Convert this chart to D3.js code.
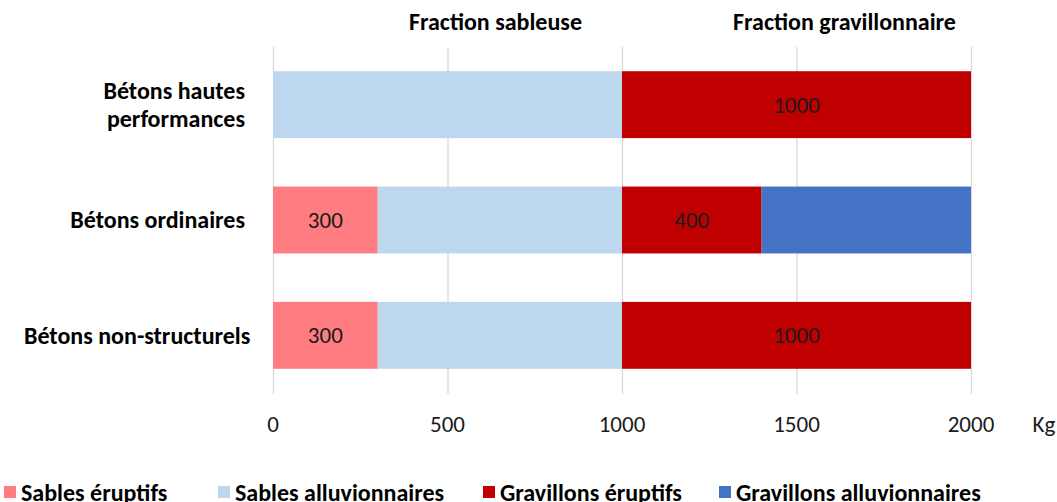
<!DOCTYPE html>
<html><head><meta charset="utf-8">
<script src="https://cdn.jsdelivr.net/npm/d3@7"></script>
<style>
body{margin:0;background:#fff;}
svg{display:block;font-family:Carlito,"Liberation Sans Narrow","Open Sans",sans-serif;}
</style></head>
<body><svg id="c" width="1057" height="502"></svg>
<script>
const categories = ["Bétons hautes performances", "Bétons ordinaires", "Bétons non-structurels"];
const categoryLines = [["Bétons hautes", "performances"], ["Bétons ordinaires"], ["Bétons non-structurels"]];
const seriesNames = ["Sables éruptifs", "Sables alluvionnaires", "Gravillons éruptifs", "Gravillons alluvionnaires"];
const sablesEruptifs = [0, 300, 300];
const sablesAlluvionnaires = [1000, 700, 700];
const gravillonsEruptifs = [1000, 400, 1000];
const gravillonsAlluvionnaires = [0, 600, 0];
const labelledSeries = ["Sables éruptifs", "Gravillons éruptifs"];
const xTicks = [0, 500, 1000, 1500, 2000];
const headers = [{text: "Fraction sableuse", from: 0, to: 1000}, {text: "Fraction gravillonnaire", from: 1000, to: 2000}];
const colors = ["#FF7C80", "#BDD7EE", "#C00000", "#4472C4"];

const seriesValues = [sablesEruptifs, sablesAlluvionnaires, gravillonsEruptifs, gravillonsAlluvionnaires];
const rows = categories.map((c, i) => {
  const o = {cat: c};
  seriesNames.forEach((s, j) => o[s] = seriesValues[j][i]);
  return o;
});
const stacked = d3.stack().keys(seriesNames)(rows);

const svg = d3.select("#c");
const x = d3.scaleLinear().domain([0, 2000]).range([273, 971]);
const y = d3.scaleBand().domain(categories).range([47, 393]).paddingInner(0.42).paddingOuter(0.21);
const color = d3.scaleOrdinal().domain(seriesNames).range(colors);
const REG = 23, BOLD = 24;

// gridlines
svg.append("g").selectAll("line").data(xTicks).join("line")
  .attr("x1", d => x(d) + 0.5).attr("x2", d => x(d) + 0.5)
  .attr("y1", 47).attr("y2", 394)
  .attr("stroke", "#d9d9d9").attr("stroke-width", 1.3);

// bars
const g = svg.append("g").selectAll("g").data(stacked).join("g").attr("fill", d => color(d.key));
g.selectAll("rect").data(d => d.map(v => ({key: d.key, v}))).join("rect")
  .attr("x", d => x(d.v[0]))
  .attr("width", d => x(d.v[1]) - x(d.v[0]))
  .attr("y", d => y(d.v.data.cat))
  .attr("height", y.bandwidth());

// value labels
stacked.filter(s => labelledSeries.includes(s.key)).forEach(s => {
  svg.append("g").selectAll("text").data(s.filter(v => v[1] - v[0] > 0)).join("text")
    .attr("x", v => (x(v[0]) + x(v[1])) / 2)
    .attr("y", v => y(v.data.cat) + y.bandwidth() / 2)
    .attr("dy", "0.35em").attr("text-anchor", "middle")
    .attr("font-size", REG).attr("fill", "#1a1a1a")
    .text(v => v[1] - v[0]);
});

// x tick labels
svg.append("g").selectAll("text").data(xTicks).join("text")
  .attr("x", d => x(d)).attr("y", 424).attr("dy", "0.35em")
  .attr("text-anchor", "middle").attr("font-size", REG).attr("fill", "#1a1a1a")
  .text(d => d);
svg.append("text").attr("x", 1044).attr("y", 424).attr("dy", "0.35em")
  .attr("text-anchor", "middle").attr("font-size", REG).attr("fill", "#1a1a1a").text("Kg");

// headers
svg.append("g").selectAll("text").data(headers).join("text")
  .attr("x", d => (x(d.from) + x(d.to)) / 2 + 48).attr("y", 22).attr("dy", "0.35em")
  .attr("text-anchor", "middle").attr("font-size", BOLD).attr("font-weight", "bold").attr("fill", "#000")
  .text(d => d.text);

// category labels
categories.forEach((c, i) => {
  const lines = categoryLines[i];
  const cy = y(c) + y.bandwidth() / 2;
  const t = svg.append("text").attr("font-size", BOLD).attr("font-weight", "bold").attr("fill", "#000")
    .attr("text-anchor", "end");
  const spans = lines.map((l, k) =>
    t.append("tspan").attr("x", 0).attr("y", cy + (k - (lines.length - 1) / 2) * 28).attr("dy", "0.35em").text(l));
  const w = d3.max(spans, s => s.node().getComputedTextLength());
  const xr = Math.max(245, 24 + w);
  spans.forEach(s => s.attr("x", xr));
});

// legend
const legendX = [4, 218, 483, 719];
seriesNames.forEach((s, i) => {
  svg.append("rect").attr("x", legendX[i]).attr("y", 486).attr("width", 12).attr("height", 12).attr("fill", color(s));
  svg.append("text").attr("x", legendX[i] + 17).attr("y", 493).attr("dy", "0.35em")
    .attr("font-size", BOLD).attr("font-weight", "bold").attr("fill", "#000").text(s);
});
</script></body></html>
